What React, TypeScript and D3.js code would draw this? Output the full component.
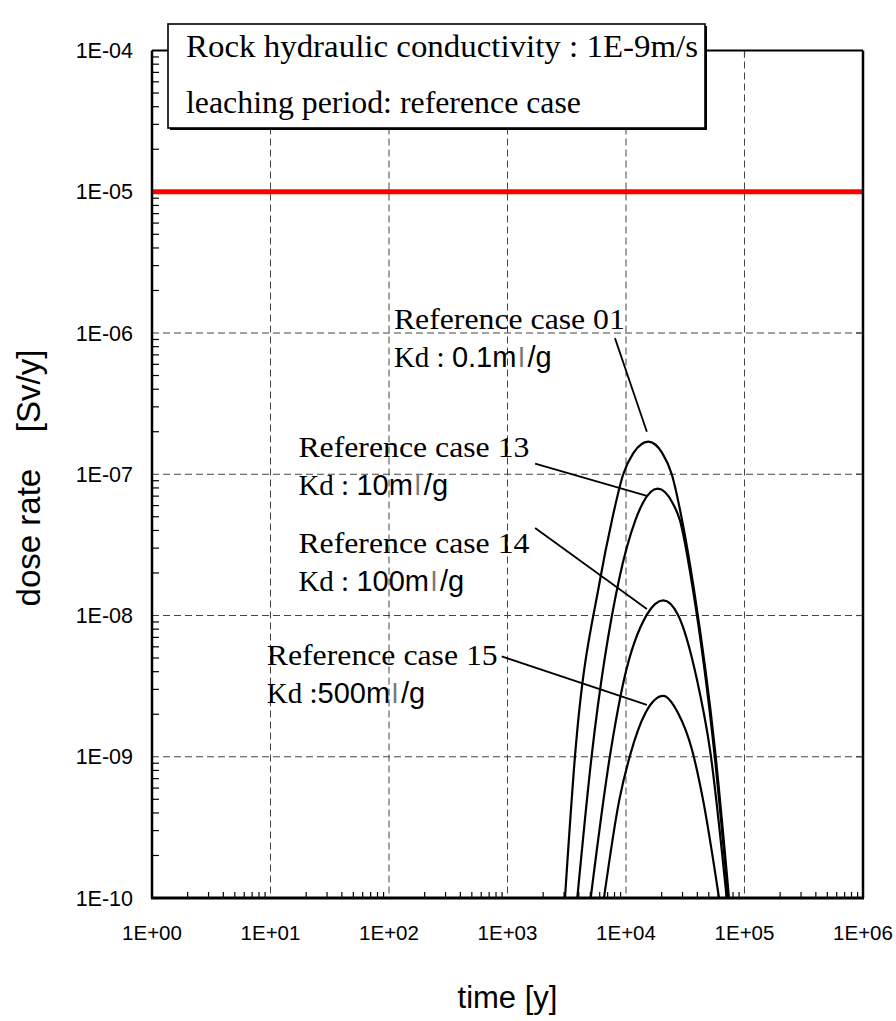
import React from 'react';
import * as d3 from 'd3';

const W = 896, H = 1021;
const plot = { left: 152, right: 863, top: 50.5, bottom: 898 };

const xTickValues = [1e0, 1e1, 1e2, 1e3, 1e4, 1e5, 1e6];
const xTickLabels = ['1E+00', '1E+01', '1E+02', '1E+03', '1E+04', '1E+05', '1E+06'];
const yTickValues = [1e-10, 1e-9, 1e-8, 1e-7, 1e-6, 1e-5, 1e-4];
const yTickLabels = ['1E-10', '1E-09', '1E-08', '1E-07', '1E-06', '1E-05', '1E-04'];

// dose rate curves
const time01 = [3055, 3715, 6040, 7620, 9480, 11530, 15420, 20240, 24320, 29700, 37500, 56360, 73960];
const dose01 = [1e-10, 1.02e-9, 1.79e-8, 4.75e-8, 1.0e-7, 1.41e-7, 1.70e-7, 1.41e-7, 1.0e-7, 4.75e-8, 1.52e-8, 1.12e-9, 1e-10];
const time13 = [3882, 5136, 8730, 12030, 13840, 18520, 24780, 28450, 36750, 55300, 72970];
const dose13 = [1e-10, 1.02e-9, 1.79e-8, 4.75e-8, 6.24e-8, 7.9e-8, 6.24e-8, 4.75e-8, 1.52e-8, 1.12e-9, 1e-10];
const time14 = [5036, 7328, 9616, 14960, 20650, 27480, 39720, 51170, 70750];
const dose14 = [1e-10, 1.02e-9, 3.51e-9, 1.01e-8, 1.28e-8, 1.01e-8, 3.51e-9, 1.12e-9, 1e-10];
const time15 = [6520, 8790, 10810, 14580, 20650, 27480, 36060, 44650, 60950];
const dose15 = [1e-10, 4.97e-10, 1.02e-9, 2.04e-9, 2.70e-9, 2.04e-9, 1.12e-9, 4.97e-10, 1e-10];

const doseLimit = 1e-5;

const caseNames = ['Reference case 01', 'Reference case 13', 'Reference case 14', 'Reference case 15'];
const kdPrefix = ['Kd : ', 'Kd : ', 'Kd : ', 'Kd :'];
const kdValues = ['0.1', '10', '100', '500'];

// annotation anchors in data units
const labelTime = [110, 17.2, 17.2, 9.3];
const labelDose = [1.06e-6, 1.33e-7, 2.77e-8, 4.48e-9];
const kdDose = [5.73e-7, 7.15e-8, 1.48e-8, 2.4e-9];
const leaderFrom = [[8070, 9.2e-7], [1710, 1.19e-7], [1710, 4.16e-8], [894, 5.13e-9]];
const leaderTo = [[15000, 2.0e-7], [15000, 7.03e-8], [15000, 1.11e-8], [15000, 2.33e-9]];

const titleLines = ['Rock hydraulic conductivity : 1E-9m/s', 'leaching period: reference case'];

const serif = '"Liberation Serif", "Times New Roman", serif';
const sans = '"Liberation Sans", Arial, sans-serif';

export default function App() {
  const x = d3.scaleLog().domain([1, 1e6]).range([plot.left, plot.right]);
  const y = d3.scaleLog().domain([1e-10, 1e-4]).range([plot.bottom, plot.top]);

  const line = d3.line<[number, number]>()
    .x(d => x(d[0]))
    .y(d => y(d[1]))
    .curve(d3.curveMonotoneX);

  const series = [
    d3.zip(time01, dose01),
    d3.zip(time13, dose13),
    d3.zip(time14, dose14),
    d3.zip(time15, dose15),
  ] as [number, number][][];

  const minorX: number[] = [];
  xTickValues.slice(0, -1).forEach(v => { for (let k = 2; k < 10; k++) minorX.push(v * k); });
  const minorY: number[] = [];
  yTickValues.slice(0, -1).forEach(v => { for (let k = 2; k < 10; k++) minorY.push(v * k); });

  return (
    <svg width={W} height={H} style={{ position: 'absolute', left: 0, top: 0, background: '#fff' }}>
      <defs>
        <clipPath id="plotClip">
          <rect x={plot.left} y={plot.top} width={plot.right - plot.left} height={plot.bottom - plot.top} />
        </clipPath>
      </defs>
      <rect width={W} height={H} fill="#fff" />

      {/* grid */}
      {xTickValues.slice(1, -1).map(v => (
        <line key={'gx' + v} x1={x(v)} x2={x(v)} y1={plot.top} y2={plot.bottom}
          stroke="#444" strokeWidth={1} strokeDasharray="7,4" />
      ))}
      {yTickValues.slice(1, -1).map(v => (
        <line key={'gy' + v} x1={plot.left} x2={plot.right} y1={y(v)} y2={y(v)}
          stroke="#444" strokeWidth={1} strokeDasharray="7,4" />
      ))}

      {/* minor ticks */}
      {minorX.map(v => (
        <line key={'mx' + v} x1={x(v)} x2={x(v)} y1={plot.bottom} y2={plot.bottom - 6} stroke="#000" strokeWidth={1.2} />
      ))}
      {minorY.map(v => (
        <line key={'my' + v} x1={plot.left} x2={plot.left + 7} y1={y(v)} y2={y(v)} stroke="#000" strokeWidth={1.2} />
      ))}
      {yTickValues.slice(1, -1).map(v => (
        <line key={'ry' + v} x1={plot.right} x2={plot.right - 7} y1={y(v)} y2={y(v)} stroke="#444" strokeWidth={1.2} />
      ))}
      {xTickValues.slice(1, -1).map(v => (
        <line key={'tx' + v} x1={x(v)} x2={x(v)} y1={plot.top} y2={plot.top + 7} stroke="#444" strokeWidth={1.2} />
      ))}

      {/* limit line */}
      <line x1={plot.left} x2={plot.right} y1={y(doseLimit)} y2={y(doseLimit)} stroke="#ff0000" strokeWidth={5} />

      {/* curves */}
      <g clipPath="url(#plotClip)">
        {series.map((s, i) => (
          <path key={'c' + i} d={line(s) || ''} fill="none" stroke="#000" strokeWidth={2.2} />
        ))}
      </g>

      {/* frame */}
      <line x1={plot.left} x2={plot.right} y1={plot.top} y2={plot.top} stroke="#000" strokeWidth={2} />
      <line x1={plot.right} x2={plot.right} y1={plot.top} y2={plot.bottom} stroke="#000" strokeWidth={2.5} />
      <line x1={plot.left} x2={plot.left} y1={plot.top} y2={plot.bottom} stroke="#000" strokeWidth={2.5} />
      <line x1={plot.left - 1} x2={plot.right + 1} y1={plot.bottom} y2={plot.bottom} stroke="#000" strokeWidth={3} />

      {/* tick labels */}
      {yTickValues.map((v, i) => (
        <text key={'yl' + v} x={133} y={y(v)} dy="0.36em" textAnchor="end" fontFamily={sans} fontSize={21.5}>{yTickLabels[i]}</text>
      ))}
      {xTickValues.map((v, i) => (
        <text key={'xl' + v} x={x(v)} y={940} textAnchor="middle" fontFamily={sans} fontSize={20.5}>{xTickLabels[i]}</text>
      ))}

      {/* axis titles */}
      <text x={(plot.left + plot.right) / 2} y={1008} textAnchor="middle" fontFamily={sans} fontSize={31}>time [y]</text>
      <text transform="translate(40,478) rotate(-90)" textAnchor="middle" fontFamily={sans} fontSize={33}
        style={{ whiteSpace: 'pre' }}>{'dose rate    [Sv/y]'}</text>

      {/* annotations */}
      {caseNames.map((name, i) => (
        <g key={'a' + i}>
          <line x1={x(leaderFrom[i][0])} y1={y(leaderFrom[i][1])} x2={x(leaderTo[i][0])} y2={y(leaderTo[i][1])}
            stroke="#000" strokeWidth={1.8} />
          <text x={x(labelTime[i])} y={y(labelDose[i])} fontFamily={serif} fontSize={29}
            textLength={231} lengthAdjust="spacingAndGlyphs">{name}</text>
          <text x={x(labelTime[i])} y={y(kdDose[i])} fontFamily={serif} fontSize={29} style={{ whiteSpace: 'pre' }}>
            {kdPrefix[i]}
            <tspan fontFamily={sans} fontSize={29}>{kdValues[i]}m</tspan>
            <tspan fontFamily={sans} fontSize={27} fill="#777" dx={2}>l</tspan>
            <tspan fontFamily={sans} fontSize={29} dx={3}>/g</tspan>
          </text>
        </g>
      ))}

      {/* title box */}
      <rect x={170} y={26} width={537} height={104} fill="#000" />
      <rect x={168} y={24} width={537} height={104} fill="#fff" stroke="#000" strokeWidth={1.6} />
      <text x={186} y={57} fontFamily={serif} fontSize={31} textLength={512} lengthAdjust="spacingAndGlyphs">{titleLines[0]}</text>
      <text x={186} y={113} fontFamily={serif} fontSize={31} textLength={395} lengthAdjust="spacingAndGlyphs">{titleLines[1]}</text>
    </svg>
  );
}
